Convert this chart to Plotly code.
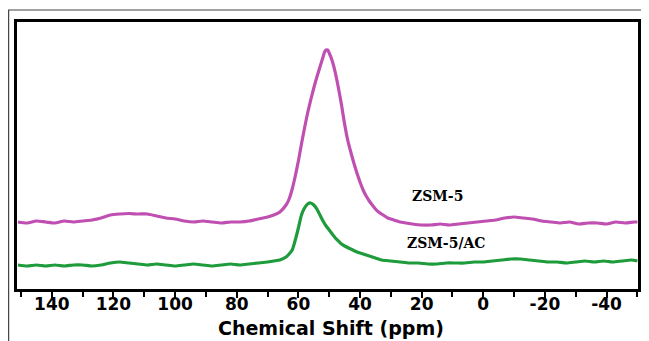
import plotly.graph_objects as go

# Chemical shift (ppm) and intensities (a.u.)
ppm_zsm5 = [151, 148, 145, 142, 139, 136, 133, 130, 127, 124, 121, 118, 115, 112, 109, 106, 103, 100,
            97, 94, 91, 88, 85, 82, 79, 76, 73, 70, 68, 66, 64, 63, 62, 61, 60, 59, 58, 57, 56, 55,
            54, 53, 52, 51.5, 51, 50.5, 50, 49, 48, 47, 46, 45, 44, 43, 42, 41, 40, 39, 38, 37, 36, 35, 34, 33,
            32, 31, 29, 27, 25, 23, 20, 17, 14, 11, 8, 5, 2, -1, -4, -7, -10, -13, -16, -19, -22,
            -25, -28, -31, -34, -37, -40, -43, -46, -49, -50]
int_zsm5 = [67, 66, 68, 67, 66, 68, 67, 68, 69, 71, 74, 75, 75.5, 75, 75, 73, 71, 70,
            68, 67, 68, 67, 66, 67, 67, 68, 70, 72, 74, 77, 84, 90, 100, 113, 128, 145, 161, 176, 189, 201,
            212, 222, 232, 237, 239, 239, 236, 228, 216, 201, 184, 165, 149, 137, 126, 116, 107, 99, 93, 88, 84, 80, 77, 75,
            73, 71, 69, 67, 66, 65, 64, 64, 65, 64, 65, 66, 67, 68, 69, 71, 72, 71, 70, 68, 67,
            66, 67, 65, 66, 66, 65, 67, 66, 67, 67]

ppm_ac = [151, 148, 145, 142, 139, 136, 133, 130, 127, 124, 121, 118, 115, 112, 109, 106, 103, 100,
          97, 94, 91, 88, 85, 82, 79, 76, 73, 70, 68, 66, 64, 63, 62, 61, 60, 59, 58, 57, 56, 55,
          54, 53, 52, 51, 50, 49, 48, 47, 46, 45, 43, 41, 39, 37, 35, 33, 30, 27, 24, 21, 18, 15,
          12, 9, 6, 3, 0, -3, -6, -9, -12, -15, -18, -21, -24, -27, -30, -33, -36, -39, -42, -45,
          -48, -50]
int_ac = [24, 23, 24, 23, 24, 23, 24, 24, 23, 24, 26, 27, 26, 25, 24, 25, 24, 23,
          24, 25, 24, 23, 24, 25, 24, 25, 26, 27, 28, 29, 32, 35, 39, 49, 61, 74, 81, 85, 86, 84,
          80, 74, 68, 63, 59, 55, 51, 48, 45, 43, 40, 37, 35, 33, 31, 29, 28, 27, 26, 26, 25, 25,
          26, 26, 26, 27, 27, 28, 29, 30, 30, 29, 28, 27, 27, 26, 27, 28, 27, 28, 27, 28,
          29, 28]

tick_vals = [140, 120, 100, 80, 60, 40, 20, 0, -20, -40]
tick_text = ["140", "120", "100", "80", "60", "40", "20", "0", "-20", "-40"]
minor_vals = [150, 130, 110, 90, 70, 50, 30, 10, -10, -30, -50]

fig = go.Figure()
fig.add_trace(go.Scatter(x=ppm_zsm5, y=int_zsm5, mode="lines",
                         line=dict(color="#C04FB2", width=3.2, shape="spline", smoothing=0.6),
                         showlegend=False))
fig.add_trace(go.Scatter(x=ppm_ac, y=int_ac, mode="lines",
                         line=dict(color="#1E9B3A", width=3.2, shape="spline", smoothing=0.6),
                         showlegend=False))

fig.update_xaxes(range=[151.3, -50.2], showline=True, mirror=True, linecolor="black", linewidth=3,
                 showgrid=False, zeroline=False, ticks="outside", ticklen=6, tickwidth=2,
                 tickcolor="black", tickvals=tick_vals, ticktext=tick_text, ticklabelstandoff=-8,
                 tickfont=dict(family="DejaVu Sans", size=17, color="black", weight="bold"),
                 minor=dict(tickvals=minor_vals, ticks="outside", ticklen=5, tickwidth=2,
                            tickcolor="black", showgrid=False))
fig.update_yaxes(range=[0, 267], showline=True, mirror=True, linecolor="black", linewidth=3,
                 showgrid=False, zeroline=False, showticklabels=False, ticks="")

fig.add_annotation(text="Chemical Shift (ppm)", xref="paper", yref="paper", x=0.506, y=-0.146,
                   showarrow=False, xanchor="center", yanchor="middle",
                   font=dict(family="DejaVu Sans", size=19, color="black", weight="bold"))
fig.add_annotation(text="ZSM-5", x=15, y=93, showarrow=False, xanchor="center", yanchor="middle",
                   font=dict(family="DejaVu Serif", size=14, color="black", weight="bold"))
fig.add_annotation(text="ZSM-5/AC", x=12, y=46, showarrow=False, xanchor="center", yanchor="middle",
                   font=dict(family="DejaVu Serif", size=14, color="black", weight="bold"))

# outer thin border of the figure panel
fig.add_shape(type="rect", xref="paper", yref="paper", x0=-0.0135, x1=1.1, y0=-0.4, y1=1.045,
              line=dict(color="#444444", width=1.2), fillcolor="rgba(0,0,0,0)", layer="below")

# page body has an 8px margin: figure is sized/offset to fill the 649x341 window
fig.update_layout(width=641, height=333, margin=dict(l=9, r=8, t=14, b=52),
                  paper_bgcolor="white", plot_bgcolor="white")

fig.write_html("out.html")
